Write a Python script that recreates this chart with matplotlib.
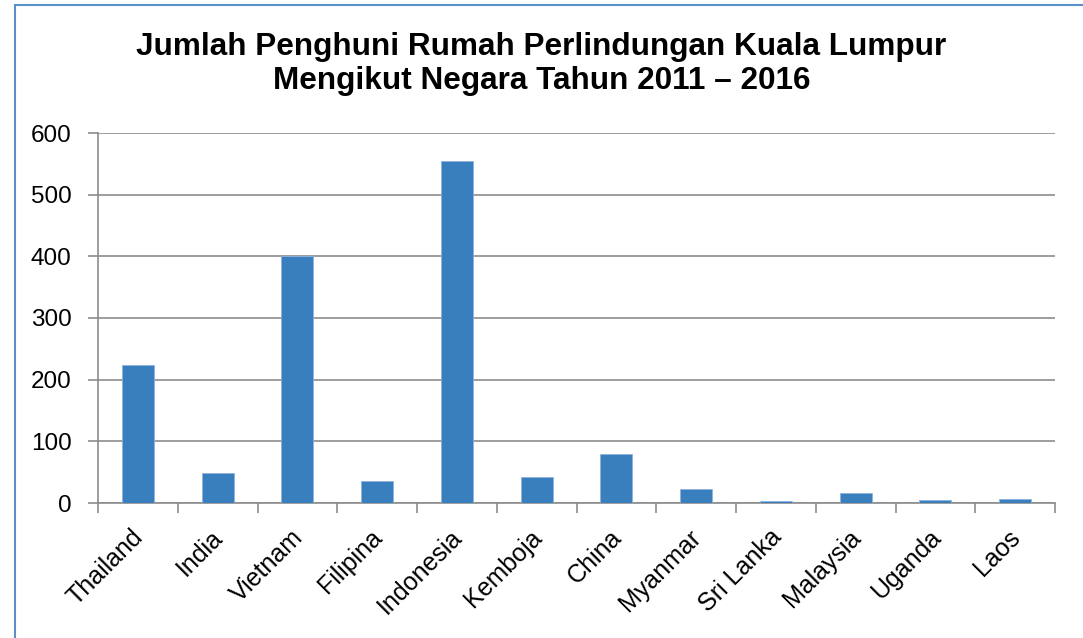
import numpy as np
import matplotlib
matplotlib.use("Agg")
import matplotlib.pyplot as plt
import matplotlib.transforms as mtransforms
from matplotlib.patches import Rectangle
from matplotlib.ticker import FixedLocator, NullFormatter

plt.rcParams['font.family'] = ['Liberation Sans', 'DejaVu Sans']

countries = ["Thailand", "India", "Vietnam", "Filipina", "Indonesia", "Kemboja",
             "China", "Myanmar", "Sri Lanka", "Malaysia", "Uganda", "Laos"]
residents = [224, 48, 400, 36, 554, 42, 80, 22, 4, 17, 5, 7]
y_ticks = [0, 100, 200, 300, 400, 500, 600]

fig = plt.figure(figsize=(10.83, 6.38), dpi=100)
ax = fig.add_axes([98 / 1083, 1 - 503 / 638, (1055 - 98) / 1083, (503 - 133) / 638])

# outer chart frame
fig.patches.append(Rectangle((15 / 1083, -0.05), 1.2, 1 - 5 / 638 + 0.05,
                             transform=fig.transFigure, fill=False,
                             edgecolor="#5B8FC8", linewidth=1.5))

x = np.arange(len(countries))
ax.bar(x, residents, width=0.4, color="#3A7FBD", edgecolor="#8DB3DD", linewidth=0.6, zorder=3)

ax.set_xlim(-0.5, len(countries) - 0.5)
ax.set_ylim(0, 600)
ax.set_yticks(y_ticks)
ax.grid(axis="y", color="#8C8C8C", linewidth=1.2, zorder=0)

ax.xaxis.set_major_locator(FixedLocator(np.arange(-0.5, len(countries), 1.0)))
ax.xaxis.set_major_formatter(NullFormatter())
ax.xaxis.set_minor_locator(FixedLocator(x))
ax.set_xticklabels(countries, minor=True, rotation=45, ha="right",
                   rotation_mode="anchor", fontsize=18)
ax.tick_params(axis="x", which="major", length=7, width=1.2, color="#8C8C8C")
ax.tick_params(axis="x", which="minor", length=0, pad=16)
ax.tick_params(axis="y", length=7, width=1.2, color="#8C8C8C", labelsize=17.5, pad=12)

# nudge rotated labels a little to the left
shift = mtransforms.ScaledTranslation(-7 / 100, 0, fig.dpi_scale_trans)
for lbl in ax.get_xticklabels(minor=True):
    lbl.set_transform(lbl.get_transform() + shift)

for side in ("top", "right"):
    ax.spines[side].set_visible(False)
for side in ("left", "bottom"):
    ax.spines[side].set_color("#8C8C8C")
    ax.spines[side].set_linewidth(1.2)

fig.text(0.5, 1 - 64 / 638, "Jumlah Penghuni Rumah Perlindungan Kuala Lumpur\nMengikut Negara Tahun 2011 \u2013 2016",
         ha="center", va="center", fontsize=22.7, fontweight="bold", linespacing=1.15)

fig.savefig("out.png", dpi=100)
